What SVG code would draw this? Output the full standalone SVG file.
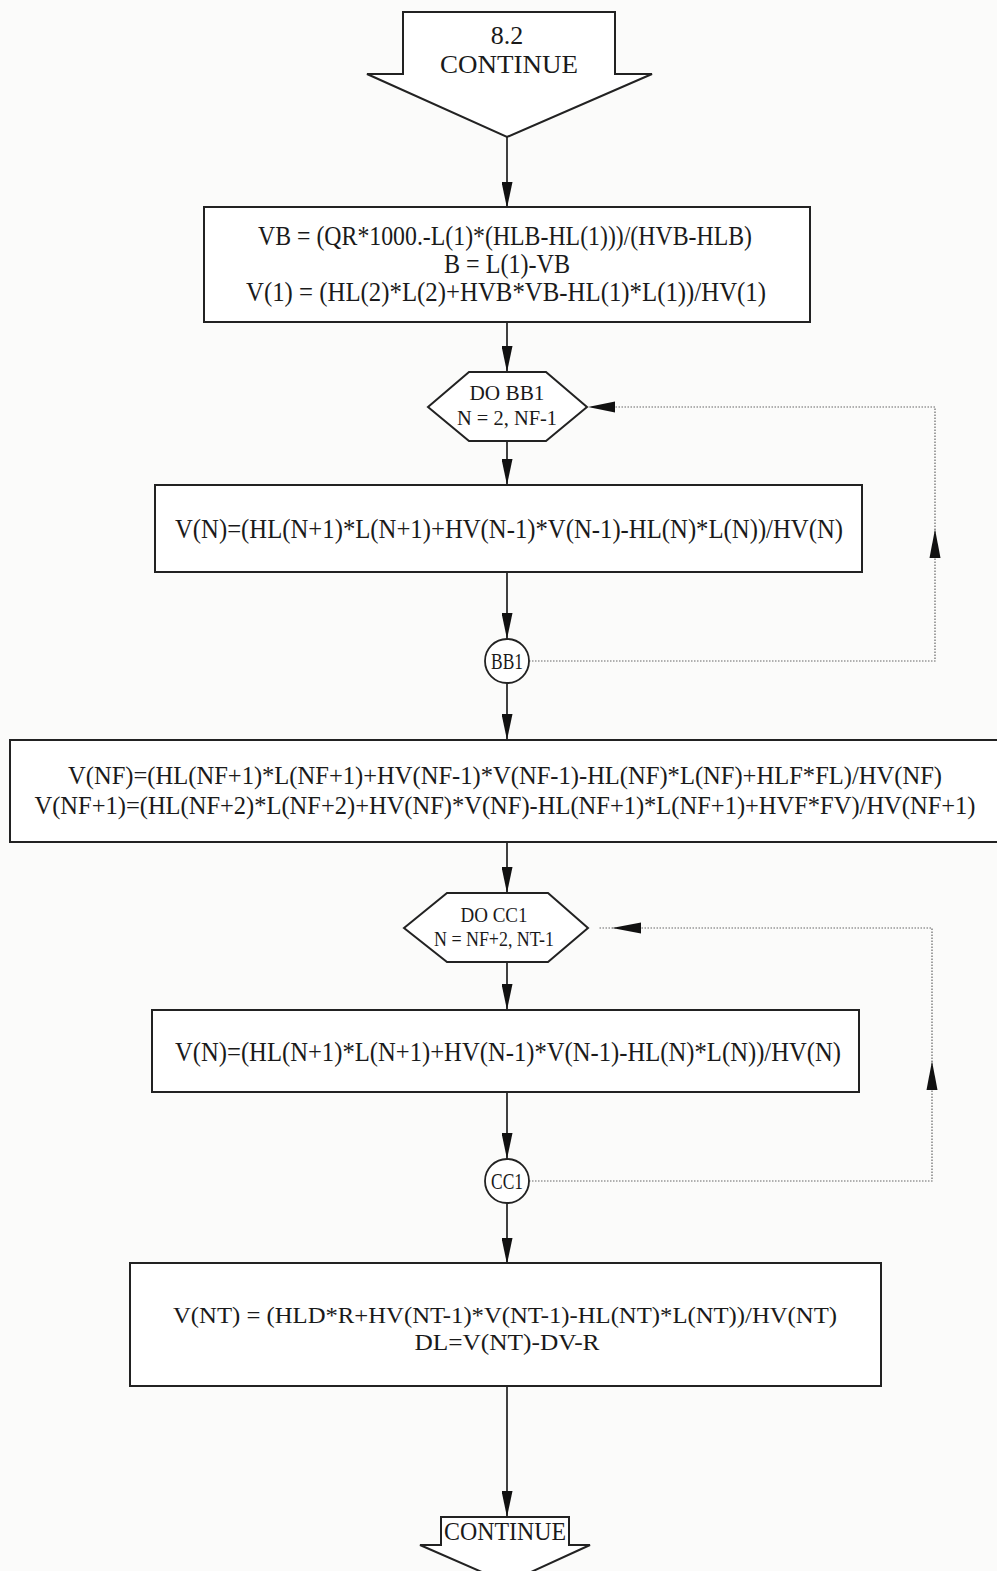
<svg xmlns="http://www.w3.org/2000/svg" width="997" height="1571" viewBox="0 0 997 1571">
<defs>
<marker id="ah" viewBox="0 0 26 11" refX="26" refY="5.5" markerWidth="26" markerHeight="11" markerUnits="userSpaceOnUse" orient="auto">
<path d="M0,0 L26,5.5 L0,11 Z" fill="#111"/>
</marker>
<style>
.box{fill:#fff;stroke:#222;stroke-width:2}
.t{font-family:"Liberation Serif","Times New Roman",serif;font-size:28px;fill:#1a1a1a;text-anchor:middle}
.m{font-size:25px}
.s{font-size:20px}
.c{font-size:24px}
.conn{stroke:#111;stroke-width:1.6;fill:none}
.dot{stroke:#666;stroke-width:1.2;fill:none;stroke-dasharray:1.5 1.5}
.head{fill:#111}
</style>
</defs>
<rect width="997" height="1571" fill="#fbfbfa"/>
<g id="connectors">
<line class="conn" x1="507" y1="137" x2="507" y2="208" marker-end="url(#ah)"/>
<line class="conn" x1="507" y1="322" x2="507" y2="372" marker-end="url(#ah)"/>
<line class="conn" x1="507" y1="441" x2="507" y2="485" marker-end="url(#ah)"/>
<line class="conn" x1="507" y1="572" x2="507" y2="639" marker-end="url(#ah)"/>
<line class="conn" x1="507" y1="683" x2="507" y2="740" marker-end="url(#ah)"/>
<line class="conn" x1="507" y1="842" x2="507" y2="893" marker-end="url(#ah)"/>
<line class="conn" x1="507" y1="962" x2="507" y2="1010" marker-end="url(#ah)"/>
<line class="conn" x1="507" y1="1092" x2="507" y2="1159" marker-end="url(#ah)"/>
<line class="conn" x1="507" y1="1203" x2="507" y2="1264" marker-end="url(#ah)"/>
<line class="conn" x1="507" y1="1387" x2="507" y2="1517" marker-end="url(#ah)"/>
<path class="dot" d="M529,661 H935 V407 H590"/>
<path class="head" d="M588,407 L615,401.5 L615,412.5 Z"/>
<path class="head" d="M935,529 L929.5,558 L940.5,558 Z"/>
<path class="dot" d="M529,1181 H932 V928 H598"/>
<path class="head" d="M612,928 L641,922.5 L641,933.5 Z"/>
<path class="head" d="M932,1061 L926.5,1090 L937.5,1090 Z"/>
</g>
<g id="start">
<path class="box" d="M403,12 H615 V74 H652 L507,137 L367,74 H403 Z"/>
<text class="t" x="507" y="44" style="font-size:26px">8.2</text>
<text class="t" x="509" y="73" style="font-size:26px" textLength="138" lengthAdjust="spacingAndGlyphs">CONTINUE</text>
</g>
<g id="box1">
<rect class="box" x="204" y="207" width="606" height="115"/>
<text class="t" x="505" y="245" textLength="494" lengthAdjust="spacingAndGlyphs">VB = (QR*1000.-L(1)*(HLB-HL(1)))/(HVB-HLB)</text>
<text class="t" x="507" y="273" textLength="126" lengthAdjust="spacingAndGlyphs">B = L(1)-VB</text>
<text class="t" x="506" y="301" textLength="520" lengthAdjust="spacingAndGlyphs">V(1) = (HL(2)*L(2)+HVB*VB-HL(1)*L(1))/HV(1)</text>
</g>
<g id="do-bb1">
<path class="box" d="M428,407 L469,372 H546 L587,407 L546,441 H469 Z"/>
<text class="t s" x="507" y="400" textLength="75" lengthAdjust="spacingAndGlyphs">DO  BB1</text>
<text class="t s" x="507" y="425" textLength="100" lengthAdjust="spacingAndGlyphs">N = 2, NF-1</text>
</g>
<g id="box2">
<rect class="box" x="155" y="485" width="707" height="87"/>
<text class="t" x="509" y="538" textLength="668" lengthAdjust="spacingAndGlyphs">V(N)=(HL(N+1)*L(N+1)+HV(N-1)*V(N-1)-HL(N)*L(N))/HV(N)</text>
</g>
<g id="bb1">
<circle class="box" cx="507" cy="661" r="22" style="stroke-width:1.8"/>
<text class="t c" x="507" y="669" textLength="32" lengthAdjust="spacingAndGlyphs">BB1</text>
</g>
<g id="box3">
<rect class="box" x="10" y="740" width="1000" height="102"/>
<text class="t m" x="505" y="784" textLength="874" lengthAdjust="spacingAndGlyphs">V(NF)=(HL(NF+1)*L(NF+1)+HV(NF-1)*V(NF-1)-HL(NF)*L(NF)+HLF*FL)/HV(NF)</text>
<text class="t m" x="505" y="814" textLength="941" lengthAdjust="spacingAndGlyphs">V(NF+1)=(HL(NF+2)*L(NF+2)+HV(NF)*V(NF)-HL(NF+1)*L(NF+1)+HVF*FV)/HV(NF+1)</text>
</g>
<g id="do-cc1">
<path class="box" d="M404,928 L447,893 H548 L588,928 L548,962 H447 Z"/>
<text class="t s" x="494" y="922" textLength="67" lengthAdjust="spacingAndGlyphs">DO  CC1</text>
<text class="t s" x="494" y="946" textLength="120" lengthAdjust="spacingAndGlyphs">N = NF+2, NT-1</text>
</g>
<g id="box4">
<rect class="box" x="152" y="1010" width="707" height="82"/>
<text class="t" x="508" y="1061" textLength="666" lengthAdjust="spacingAndGlyphs">V(N)=(HL(N+1)*L(N+1)+HV(N-1)*V(N-1)-HL(N)*L(N))/HV(N)</text>
</g>
<g id="cc1">
<circle class="box" cx="507" cy="1181" r="22" style="stroke-width:1.8"/>
<text class="t c" x="507" y="1189" textLength="32" lengthAdjust="spacingAndGlyphs">CC1</text>
</g>
<g id="box5">
<rect class="box" x="130" y="1263" width="751" height="123"/>
<text class="t" x="505" y="1323" style="font-size:24px" textLength="664" lengthAdjust="spacingAndGlyphs">V(NT) = (HLD*R+HV(NT-1)*V(NT-1)-HL(NT)*L(NT))/HV(NT)</text>
<text class="t" x="507" y="1350" style="font-size:24px" textLength="185" lengthAdjust="spacingAndGlyphs">DL=V(NT)-DV-R</text>
</g>
<g id="end">
<path class="box" d="M441,1517 H569 V1545 H590 L507,1583 L420,1545 H441 Z"/>
<text class="t" x="505" y="1540" style="font-size:25px" textLength="122" lengthAdjust="spacingAndGlyphs">CONTINUE</text>
</g>
</svg>
